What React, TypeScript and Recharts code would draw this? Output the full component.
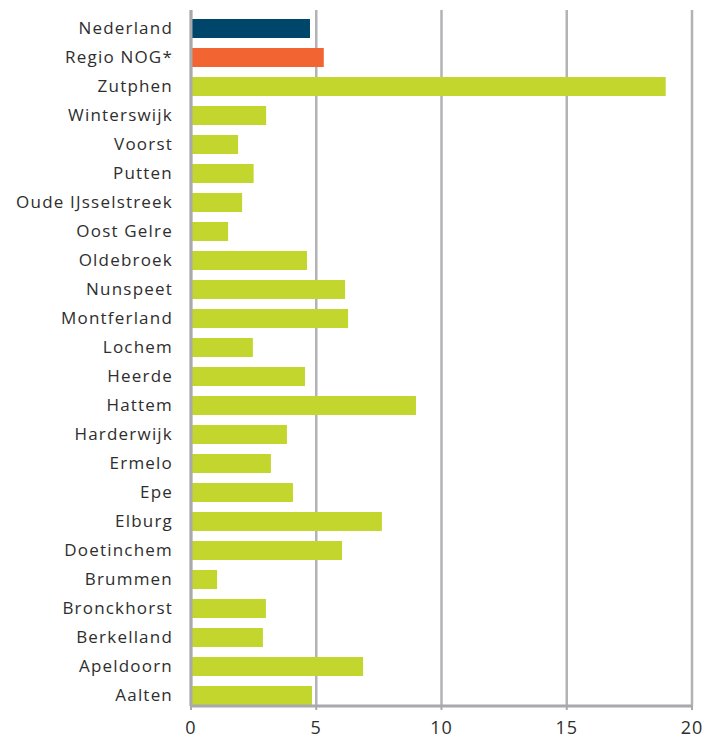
import { BarChart, Bar, XAxis, YAxis, CartesianGrid, Cell } from 'recharts';

// categories top to bottom
const gemeenten = [
  'Nederland',
  'Regio NOG*',
  'Zutphen',
  'Winterswijk',
  'Voorst',
  'Putten',
  'Oude IJsselstreek',
  'Oost Gelre',
  'Oldebroek',
  'Nunspeet',
  'Montferland',
  'Lochem',
  'Heerde',
  'Hattem',
  'Harderwijk',
  'Ermelo',
  'Epe',
  'Elburg',
  'Doetinchem',
  'Brummen',
  'Bronckhorst',
  'Berkelland',
  'Apeldoorn',
  'Aalten',
];

const waarden = [
  4.75, 5.3, 18.95, 3.0, 1.88, 2.5, 2.04, 1.48, 4.63, 6.15, 6.27, 2.47, 4.55, 8.98,
  3.83, 3.19, 4.07, 7.62, 6.03, 1.04, 2.99, 2.87, 6.87, 4.83,
];

const xTicks = [0, 5, 10, 15, 20];

const NAVY = '#00466b';
const ORANGE = '#f26532';
const LIME = '#c2d62e';
const GRID = '#b2b2b7';
const AXIS = '#a8a8ad';

const data = gemeenten.map((name, i) => ({ name, value: waarden[i] }));

const barColor = (name: string) =>
  name === 'Nederland' ? NAVY : name === 'Regio NOG*' ? ORANGE : LIME;

// Excel-style bars sit slightly low in their band
const LowBar = (props: any) => {
  const { x, y, width, height, fill } = props;
  return <rect x={x} y={y + 4} width={Math.max(0, width)} height={height} fill={fill} />;
};

export default function App() {
  return (
    <div style={{ position: 'absolute', left: 0, top: 0, background: '#fff' }}>
      <BarChart
        width={714}
        height={744}
        data={data}
        layout="vertical"
        margin={{ top: 10, right: 22, bottom: 0, left: 0 }}
        barSize={19}
      >
        <CartesianGrid horizontal={false} stroke={GRID} strokeWidth={2.5} />
        <XAxis
          type="number"
          domain={[0, 20]}
          ticks={xTicks}
          height={38}
          axisLine={{ stroke: AXIS, strokeWidth: 3 }}
          tickLine={{ stroke: AXIS, strokeWidth: 2 }}
          tickSize={4}
          tickMargin={11}
          tick={{ fill: '#2e2e2e', fontSize: 18, fontFamily: 'Open Sans', letterSpacing: 1 }}
        />
        <YAxis
          type="category"
          dataKey="name"
          width={191}
          interval={0}
          axisLine={{ stroke: AXIS, strokeWidth: 3 }}
          tickLine={false}
          tickSize={0}
          tickMargin={18}
          tick={{ fill: '#2e2e2e', fontSize: 17, fontFamily: 'Open Sans', letterSpacing: 1.2, dy: 3 }}
        />
        <Bar dataKey="value" isAnimationActive={false} shape={LowBar}>
          {data.map((d) => (
            <Cell key={d.name} fill={barColor(d.name)} />
          ))}
        </Bar>
      </BarChart>
    </div>
  );
}
